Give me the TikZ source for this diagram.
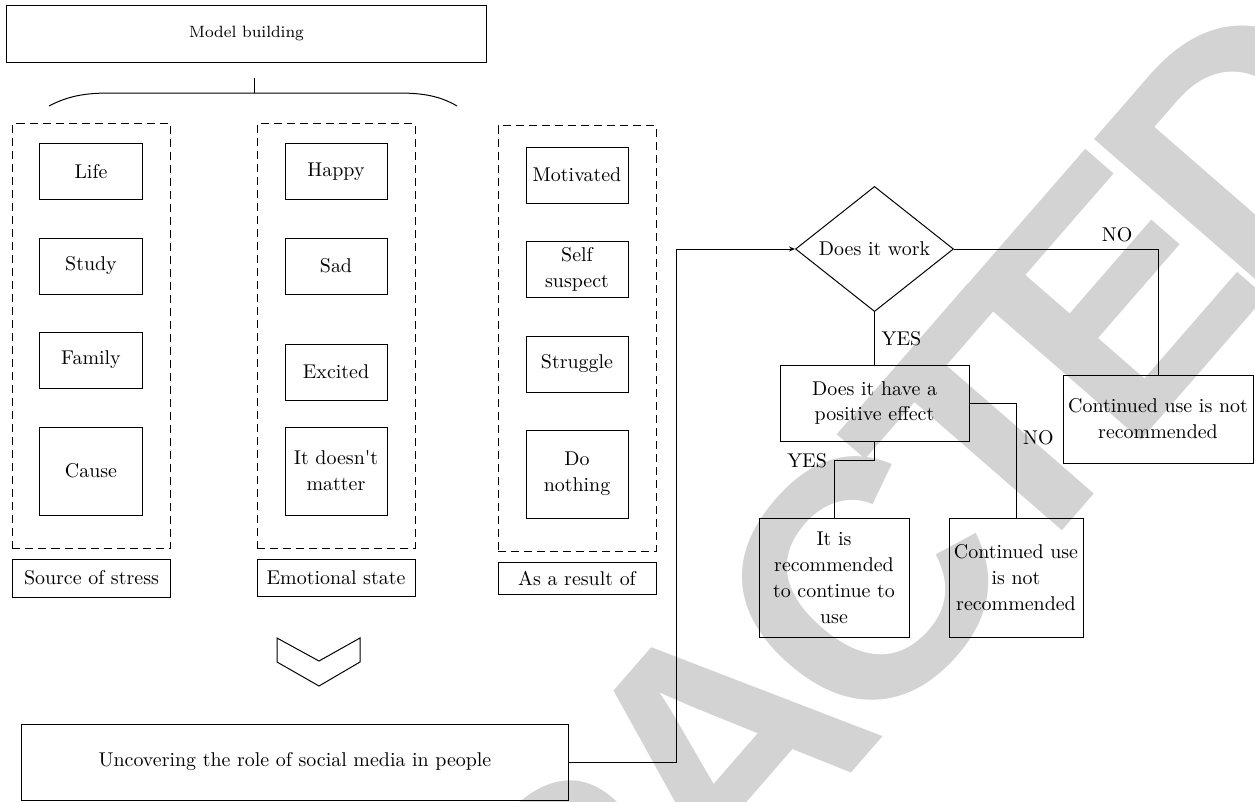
\documentclass[tikz,border=0pt]{standalone}
\usepackage{fontspec}
\usetikzlibrary{shapes.geometric,arrows.meta}
\newfontfamily\stampfont{Liberation Sans}
\definecolor{stampgray}{RGB}{211,211,211}

\begin{document}
\begin{tikzpicture}[x=0.5bp,y=-0.5bp,line width=0.5bp,
  box/.style={draw,inner sep=0pt,align=center,minimum width=51bp,minimum height=28bp,font=\fontsize{10}{13}\selectfont},
  tallbox/.style={box,minimum height=44bp},
  group/.style={draw,dash pattern=on 4bp off 2.5bp,minimum width=79bp,minimum height=212bp},
  tag/.style={draw,inner sep=0pt,minimum width=79bp},
  decision/.style={draw,diamond,inner sep=0pt,minimum width=79bp,minimum height=59bp},
  >={Stealth[length=3bp,width=2.5bp]}]
  \useasboundingbox (0,0) rectangle (1255,801);
  % watermark
  \begin{scope}
    \clip (0,0) rectangle (1255,801);
    \node[rotate=49,inner sep=0pt,text=stampgray,font=\stampfont\bfseries\fontsize{170}{170}\selectfont] (stamp) at (721,746)
      {R\kern-15bp E\kern-15bp T\kern-15bp R\kern-15bp A\kern-15bp C\kern-15bp T\kern-15bp E\kern-15bp D};
  \end{scope}

  \node[box,minimum width=239.5bp,minimum height=28.5bp,font=\fontsize{8.2}{10}\selectfont] (model) at (246.5,33.5) {Model building};
  \coordinate (bracetop) at (254,78);
  \coordinate (bracemid) at (254,93);
  \draw (bracetop) -- (bracemid);
  \draw (49,106) .. controls (68,96) and (85,93) .. (110,93) -- (398,93) .. controls (423,93) and (440,96) .. (457,106);

  \node[group] (stress) at (91.5,336) {};
  \node[group] (emotion) at (336,336) {};
  \node[group,minimum height=212.5bp] (result) at (577,338.5) {};

  \foreach \y/\t/\n in {171.5/Life/life,266/Study/study,360/Family/family}
    \node[box] (\n) at (91,\y) {\t};
  \node[tallbox] (cause) at (91,471) {Cause};
  \foreach \y/\t/\n in {171.5/Happy/happy,266/Sad/sad,372/Excited/excited}
    \node[box] (\n) at (336,\y) {\t};
  \node[tallbox] (nomatter) at (336,471) {It doesn\textquotesingle t\\matter};
  \foreach \y/\t/\n in {175/Motivated/motivated,269/{Self\\suspect}/suspect,364/Struggle/struggle}
    \node[box] (\n) at (577,\y) {\t};
  \node[tallbox] (nothing) at (577,474) {Do\\nothing};

  \node[tag,minimum height=19bp] (stresstag) at (91.5,578) {Source of stress};
  \node[tag,minimum height=18.5bp] (emotiontag) at (336,577.5) {Emotional state};
  \node[tag,minimum height=16bp] (resulttag) at (577,578) {As a result of};

  \draw (277,638) -- (319,661) -- (360,638) -- (360,662) -- (319,686) -- (277,662) -- cycle;

  \node[box,minimum width=273bp,minimum height=38bp] (uncover) at (295,762) {Uncovering the role of social media in people};

  \node[decision,font=\fontsize{10}{13}\selectfont] (works) at (874.5,249) {Does it work};
  \node[box,minimum width=94.5bp,minimum height=38bp] (effect) at (874.5,403) {Does it have a\\positive effect};
  \node[box,minimum width=95bp,minimum height=44bp] (stop) at (1158,419) {Continued use is not\\recommended};
  \node[box,minimum width=75bp,minimum height=59.5bp] (keep) at (834,577.5) {It is\\recommended\\to continue to\\use};
  \node[box,minimum width=67bp,minimum height=59.5bp] (stoplow) at (1016,577.5) {Continued use\\is not\\recommended};

  \coordinate (turn) at (676,762);
  \draw[->] (uncover.east) -- (turn) |- (works.west);
  \draw (works.east) -| node[above,pos=0.4] {NO} (stop.north);
  \draw (works.south) -- node[right] {YES} (effect.north);
  \draw (effect.south) -- ++(0,19) -| node[left,pos=0.5] {YES} (keep.north);
  \draw (effect.east) -| node[right,pos=0.65] {NO} (stoplow.north);
\end{tikzpicture}
\end{document}
